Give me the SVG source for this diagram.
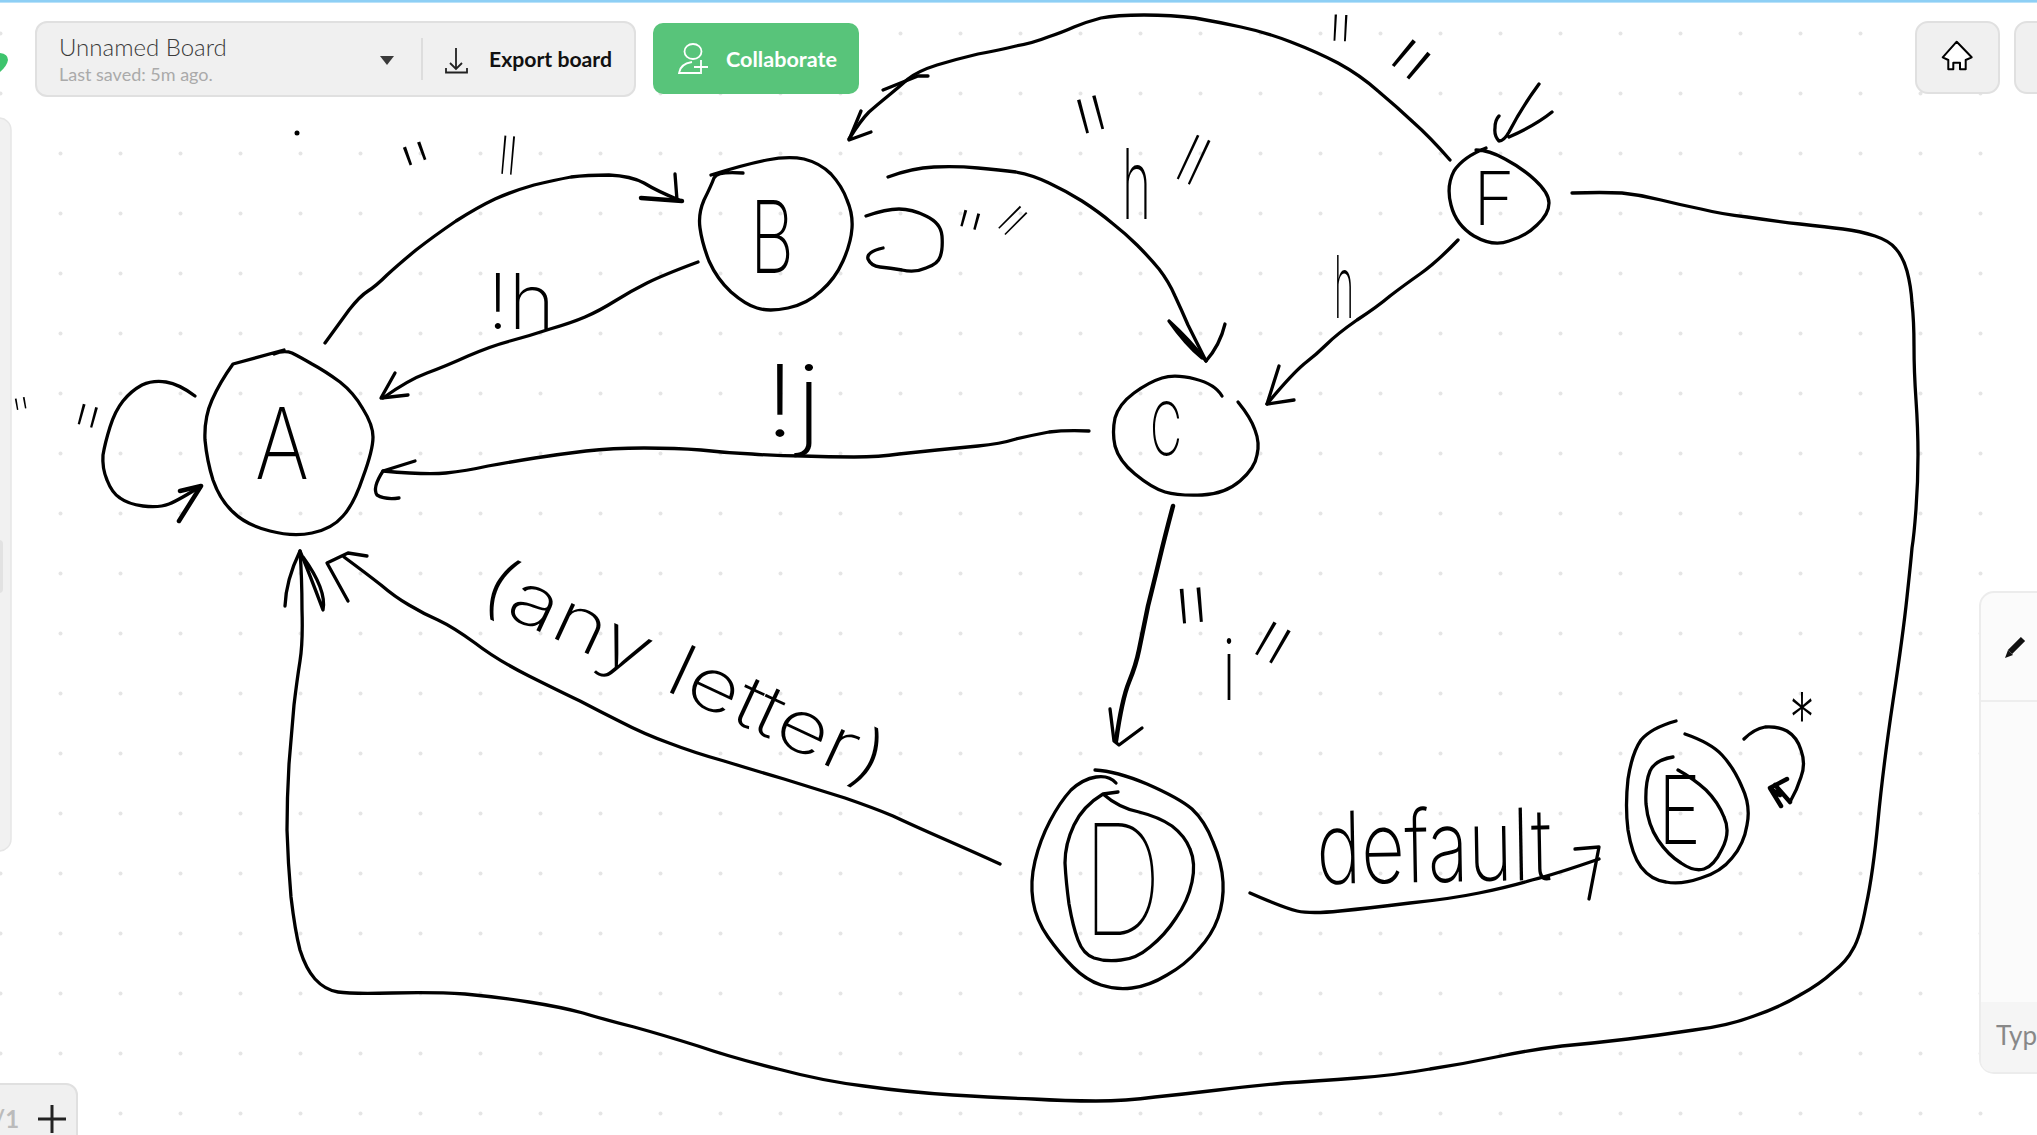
<svg xmlns="http://www.w3.org/2000/svg" width="2037" height="1135" viewBox="0 0 2037 1135">
<defs>
<pattern id="dots" patternUnits="userSpaceOnUse" x="-30" y="0" width="60" height="60"><circle cx="30.5" cy="33.6" r="2" fill="#e5e5e5"/></pattern>
</defs>
<style>
.ink{fill:none;stroke:#000;stroke-width:3.3;stroke-linecap:round;stroke-linejoin:round}
.hv{stroke-width:4.5}
.hw{font-family:"Inter","Liberation Sans",sans-serif;font-weight:200;fill:#000}
.thin{font-family:"Inter","Liberation Sans",sans-serif;font-weight:100;fill:#000}
.ui{font-family:"Lato","Liberation Sans",sans-serif}
.btn{fill:#f0f0f0;stroke:#e0e0e0;stroke-width:2}
</style>
<rect width="2037" height="1135" fill="#fff"/>
<rect width="2037" height="1135" fill="url(#dots)"/>
<rect x="0" y="0" width="2037" height="2.6" fill="#8ecff5"/>
<g id="toolbar">
<path d="M0 53Q8 54 8 60Q7 66 0 72Z" fill="#3ec46d"/>
<rect class="btn" x="36" y="22" width="599" height="74" rx="11"/>
<text class="ui" x="59" y="56" font-size="24" font-weight="300" fill="#3a3a3a">Unnamed Board</text>
<text class="ui" x="59" y="81" font-size="18" fill="#aaa">Last saved: 5m ago.</text>
<path d="M380 56H394L387 65Z" fill="#3a3a3a"/>
<path d="M422 38V80" stroke="#ddd" stroke-width="2" fill="none"/>
<path d="M456 48V69M450 63L456 69L462 63M446 68V72.500H467V68" fill="none" stroke="#222" stroke-width="1.800"/>
<text class="ui" x="489" y="67" font-size="21.200" font-weight="700" fill="#111">Export board</text>
<rect x="653" y="23" width="206" height="71" rx="10" fill="#58c47a"/>
<ellipse cx="693" cy="51.500" rx="8.500" ry="7.500" fill="none" stroke="#fff" stroke-width="1.800"/>
<path d="M700 73H679Q680 64 692 62M701 60V74M694 67H708" fill="none" stroke="#fff" stroke-width="1.800"/>
<text class="ui" x="726" y="67" font-size="21.600" font-weight="700" fill="#fff">Collaborate</text>
<rect class="btn" x="1916" y="22" width="83" height="71" rx="12"/>
<path d="M1956.700 41.700L1971.700 57.300L1965.700 60V69.300H1960V62.700H1953.300V69.300H1948.300V60L1942.700 57.300Z" fill="#fff" stroke="#000" stroke-width="2" stroke-linejoin="round"/>
<rect class="btn" x="2015" y="22" width="60" height="71" rx="12"/>
</g>
<g id="left-panel">
<rect x="-20" y="118" width="31" height="733" rx="12" fill="#f1f1f1" stroke="#e6e6e6" stroke-width="1.500"/>
<rect x="-8" y="540" width="11" height="53" rx="4" fill="#e2e2e2"/>
<rect class="btn" x="-20" y="1084" width="97" height="70" rx="11"/>
<text class="ui" x="-6" y="1128" font-size="24" font-weight="700" fill="#bbb">/1</text>
<path d="M38 1119H66M52 1105V1133" stroke="#222" stroke-width="3" fill="none"/>
</g>
<g id="right-panel">
<rect x="1980" y="592" width="90" height="481" rx="14" fill="#fbfbfb" stroke="#ececec" stroke-width="2"/>
<path d="M1981 701H2037" stroke="#eee" stroke-width="2"/>
<path d="M1981 1002H2037V1072H1994Q1981 1072 1981 1060Z" fill="#f5f5f5"/>
<path d="M2023 639L2010 652" stroke="#111" stroke-width="6" fill="none"/><path d="M2008 650L2005 658L2013 655Z" fill="#111"/>
<text class="ui" x="1996" y="1045" font-size="26" fill="#888">Type</text>
</g>
<g id="connectors">
<g id="a-to-b"><path class="ink" d="M325 343Q338 325 349 310Q360 296 368 291Q376 286 387 275Q399 264 416 250Q434 236 456 221Q478 207 495 199Q513 191 534 185Q555 180 571 177Q587 175 609 175Q631 176 644 183Q657 191 679 200"/><path class="ink" d="M675 174L677 200"/><path class="ink hv" d="M641 198L682 201"/></g>
<g id="b-to-a"><path class="ink" d="M698 262Q663 275 647 283Q631 291 615 301Q599 311 585 317Q571 323 550 329Q529 336 510 341Q491 346 468 356Q446 366 427 373Q408 380 383 398"/><path class="ink" d="M395 373L381 398L408 395"/></g>
<g id="c-to-a"><path class="ink" d="M1089 431Q1066 430 1049 432Q1033 435 1016 439Q1000 444 978 446Q957 448 937 450Q918 452 899 454Q880 457 854 457Q829 457 803 456Q778 456 752 454Q727 453 701 450Q676 448 644 448Q612 448 586 451Q561 454 535 458Q510 462 488 466Q466 471 446 473Q427 475 383 471"/><path class="ink" d="M415 461L383 471Q372 488 377 495Q385 500 399 498"/></g>
<g id="a-loop"><path class="ink" d="M195 396Q179 384 166 382Q153 380 142 385Q131 391 123 401Q115 411 110 427Q105 443 103 455Q102 468 107 480Q112 493 120 498Q128 504 143 506Q159 508 169 504Q179 500 201 486"/><path class="ink hv" d="M179 521L201 486L180 491"/></g>
<g id="b-loop"><path class="ink" d="M866 216Q886 209 899 209Q912 209 926 216Q941 223 942 236Q943 250 940 257Q938 264 926 268Q915 273 902 270Q890 268 880 267Q871 266 868 259Q866 252 883 248"/></g>
<g id="b-to-c"><path class="ink" d="M888 177Q912 168 934 167Q957 166 978 168Q1000 170 1016 172Q1033 175 1049 183Q1066 191 1082 201Q1099 212 1112 223Q1126 234 1137 245Q1149 257 1159 269Q1169 282 1175 296Q1182 311 1188 325Q1195 339 1206 361"/><path class="ink" d="M1169 321Q1190 340 1206 361M1169 321Q1186 345 1202 358M1225 324Q1220 345 1206 361"/></g>
<g id="f-to-b"><path class="ink" d="M1450 160Q1430 137 1413 122Q1397 107 1378 91Q1360 75 1338 63Q1317 52 1291 42Q1265 32 1241 27Q1218 22 1195 18Q1172 15 1144 15Q1116 15 1101 18Q1086 22 1074 27Q1063 32 1048 37Q1033 43 1016 46Q1000 50 978 54Q957 59 937 65Q918 71 908 79Q899 87 888 96Q877 105 869 112Q861 120 849 139"/><path class="ink" d="M883 90L918 76L928 76M861 111L849 140L871 132"/></g>
<g id="f-to-c"><path class="ink" d="M1458 240Q1437 262 1420 274Q1403 286 1390 296Q1377 307 1357 320Q1337 334 1327 344Q1317 354 1304 364Q1291 375 1267 404"/><path class="ink" d="M1279 366L1267 404L1294 400"/></g>
<g id="start-to-f"><path class="ink" d="M1539 84Q1522 107 1509 132Q1504 141 1499 141Q1494 136 1495 128Q1495 120 1499 116M1552 112Q1536 125 1509 137"/></g>
<g id="f-to-a"><path class="ink" d="M1572 193Q1602 192 1622 193Q1642 195 1661 200Q1681 205 1701 209Q1721 214 1747 217Q1774 221 1800 224Q1827 227 1843 229Q1860 231 1875 236Q1890 241 1896 249Q1903 257 1907 271Q1911 286 1912 303Q1914 321 1914 346Q1914 371 1916 400Q1918 429 1918 455Q1918 482 1916 509Q1914 536 1912 548Q1911 560 1907 597Q1903 635 1893 701Q1883 768 1878 821Q1873 874 1866 906Q1860 938 1853 949Q1847 961 1833 972Q1820 984 1800 995Q1780 1007 1754 1016Q1728 1026 1694 1030Q1661 1035 1628 1039Q1595 1043 1562 1046Q1529 1050 1496 1057Q1463 1064 1430 1069Q1397 1075 1357 1078Q1317 1081 1284 1083Q1251 1086 1218 1090Q1185 1094 1155 1097Q1126 1101 1096 1101Q1066 1101 1033 1099Q1000 1098 953 1095Q906 1092 864 1086Q823 1081 778 1069Q733 1058 698 1046Q663 1035 634 1027Q606 1020 583 1013Q561 1007 529 1002Q497 997 465 994Q434 992 392 993Q351 994 338 992Q325 990 315 979Q306 969 300 950Q295 931 291 897Q288 863 287 830Q287 798 289 764Q292 730 294 705Q297 680 300 661Q303 642 302 610Q302 578 300 551"/><path class="ink" d="M285 606Q286 580 300 551Q310 575 323 610Q327 590 303 557"/></g>
<g id="d-to-a"><path class="ink" d="M1000 864Q976 853 944 839Q912 825 893 816Q874 808 845 798Q816 789 784 779Q753 770 724 761Q695 753 669 743Q644 734 621 722Q599 711 580 701Q561 692 529 676Q497 660 475 643Q453 627 438 620Q424 614 409 605Q395 597 381 585Q367 574 344 557"/><path class="ink" d="M348 601L327 563L348 553L367 556"/></g>
<g id="c-to-d"><path class="ink hv" d="M1173 506Q1165 536 1160 557Q1155 578 1148 606Q1142 635 1139 650Q1136 665 1129 682Q1122 699 1116 741"/><path class="ink" d="M1110 709L1114 741L1119 745L1142 728"/></g>
<g id="d-to-e"><path class="ink" d="M1250 893Q1284 908 1297 911Q1311 914 1340 911Q1370 908 1410 903Q1450 899 1479 893Q1509 887 1532 880Q1556 874 1599 859"/><path class="ink" d="M1575 849L1599 847L1589 899"/></g>
<g id="e-loop"><path class="ink" d="M1744 739Q1754 729 1765 727Q1777 726 1787 731Q1797 737 1801 750Q1806 764 1801 777Q1797 790 1790 802"/><path class="ink hv" d="M1787 779L1770 788L1781 806M1790 802L1775 785M1780 795L1772 790"/></g>
</g>
<g id="node-a"><path class="ink" d="M284 350L233 364Q220 382 212 400Q204 418 205 440Q207 461 213 480Q220 500 233 512Q246 525 270 531Q293 537 312 533Q332 529 343 516Q354 504 363 477Q373 450 373 437Q373 425 363 409Q354 393 340 382Q325 371 312 364Q300 357 292 353Q284 350 274 354"/><text class="hw" x="255" y="479" font-size="99" textLength="54" lengthAdjust="spacingAndGlyphs">A</text></g>
<g id="node-b"><path class="ink" d="M711 175Q746 164 767 160Q788 156 804 159Q820 163 831 174Q842 186 847 200Q853 214 852 228Q851 243 843 261Q835 279 821 291Q807 304 788 308Q769 312 757 308Q746 305 731 292Q717 279 709 261Q702 243 700 228Q698 214 704 200Q711 186 714 178Q717 171 743 173"/><text class="hw" x="750" y="273" font-size="100" font-weight="500" textLength="44" lengthAdjust="spacingAndGlyphs">B</text></g>
<g id="node-c"><path class="ink" d="M1222 396Q1215 384 1195 379Q1175 374 1162 378Q1149 382 1134 393Q1119 404 1115 418Q1112 432 1115 446Q1119 461 1135 474Q1152 488 1165 492Q1179 496 1202 495Q1225 494 1240 481Q1255 468 1257 455Q1260 443 1255 430Q1251 418 1238 402"/><text class="hw" x="1150" y="455" font-size="73" textLength="32" lengthAdjust="spacingAndGlyphs">C</text></g>
<g id="node-d"><path class="ink" d="M1095 770Q1116 771 1147 784Q1179 798 1192 809Q1205 821 1213 842Q1222 863 1223 882Q1224 901 1218 918Q1212 935 1198 950Q1185 965 1167 975Q1149 986 1132 988Q1116 990 1101 985Q1086 980 1073 967Q1060 954 1048 937Q1036 920 1033 901Q1030 882 1035 861Q1040 840 1050 821Q1060 802 1071 790Q1083 779 1096 777Q1109 775 1116 783"/><path class="ink" d="M1118 792L1103 794Q1119 808 1139 812Q1159 817 1172 826Q1185 836 1190 849Q1196 863 1192 882Q1188 901 1176 918Q1165 935 1150 947Q1136 959 1121 960Q1106 962 1094 958Q1083 954 1078 940Q1073 927 1069 904Q1066 882 1065 863Q1065 844 1074 825Q1083 806 1103 794"/><text class="thin" x="1082" y="935" font-size="154" textLength="80" lengthAdjust="spacingAndGlyphs">D</text></g>
<g id="node-e"><path class="ink" d="M1676 721Q1651 728 1641 740Q1632 753 1628 779Q1625 806 1628 830Q1632 855 1641 867Q1651 880 1666 882Q1681 885 1701 878Q1721 872 1732 858Q1744 844 1747 825Q1751 806 1742 787Q1734 768 1722 755Q1711 743 1685 734"/><path class="ink" d="M1673 757Q1655 760 1650 771Q1645 783 1646 804Q1648 825 1658 840Q1668 855 1681 863Q1694 872 1704 869Q1714 866 1722 849Q1731 832 1724 817Q1718 802 1706 790Q1694 779 1678 770"/><text class="hw" x="1658" y="844" font-size="95" textLength="43" lengthAdjust="spacingAndGlyphs">E</text></g>
<g id="node-f"><path class="ink" d="M1486 148Q1463 157 1454 171Q1446 186 1451 205Q1456 225 1474 236Q1493 247 1509 241Q1526 236 1537 225Q1549 214 1549 203Q1549 193 1535 180Q1522 168 1505 159Q1489 150 1476 150"/><text class="hw" x="1473" y="225" font-size="74" textLength="42" lengthAdjust="spacingAndGlyphs">F</text></g>
<g id="labels">
<text class="hw" x="487" y="329" font-size="77" textLength="68" lengthAdjust="spacingAndGlyphs">!h</text>
<text class="hw" x="764" y="437" font-size="100" textLength="58" lengthAdjust="spacingAndGlyphs">!j</text>
<text class="hw" x="1122" y="219" font-size="97" textLength="29" lengthAdjust="spacingAndGlyphs">h</text>
<text class="hw" x="1334" y="318" font-size="86" textLength="20" lengthAdjust="spacingAndGlyphs">h</text>
<text class="hw" x="1222" y="700" font-size="85" textLength="14" lengthAdjust="spacingAndGlyphs">i</text>
<text class="hw" x="1789" y="743" font-size="70" textLength="26" lengthAdjust="spacingAndGlyphs">*</text>
<text class="hw" transform="translate(476,602) rotate(25)" font-size="72" textLength="438" lengthAdjust="spacingAndGlyphs">(any letter)</text>
<text class="hw" transform="translate(1317,884) rotate(-1)" font-size="100" textLength="235" lengthAdjust="spacingAndGlyphs">default</text>
<g class="thin">
<text transform="translate(6,400) rotate(-10)" y="38" font-size="52" textLength="28" lengthAdjust="spacingAndGlyphs">"</text>
<text transform="translate(69,400) rotate(15)" y="69" font-size="95" textLength="44" lengthAdjust="spacingAndGlyphs">"</text>
<text transform="translate(387,153) rotate(-20)" y="63" font-size="86" textLength="52" lengthAdjust="spacingAndGlyphs">"</text>
<text transform="translate(495,134) rotate(5)" y="128" font-size="175" textLength="30" lengthAdjust="spacingAndGlyphs">"</text>
<text transform="translate(950,206) rotate(15)" y="55" font-size="76" textLength="46" lengthAdjust="spacingAndGlyphs">"</text>
<text transform="translate(1013,199) rotate(45)" y="102" font-size="140" textLength="30" lengthAdjust="spacingAndGlyphs">"</text>
<text transform="translate(1060,104) rotate(-15)" y="115" font-size="157" textLength="54" lengthAdjust="spacingAndGlyphs">"</text>
<text transform="translate(1185,128) rotate(25)" y="161" font-size="220" textLength="42" lengthAdjust="spacingAndGlyphs">"</text>
<text transform="translate(1323,13) rotate(3)" y="88" font-size="120" textLength="36" lengthAdjust="spacingAndGlyphs">"</text>
<text transform="translate(1397,25) rotate(40)" y="110" font-size="150" textLength="66" lengthAdjust="spacingAndGlyphs">"</text>
<text transform="translate(1161,590) rotate(-5)" y="115" font-size="157" textLength="58" lengthAdjust="spacingAndGlyphs">"</text>
<text transform="translate(1258,612) rotate(30)" y="124" font-size="170" textLength="56" lengthAdjust="spacingAndGlyphs">"</text>
</g>
</g>
<circle cx="297" cy="133" r="2.500" fill="#000"/>
</svg>
